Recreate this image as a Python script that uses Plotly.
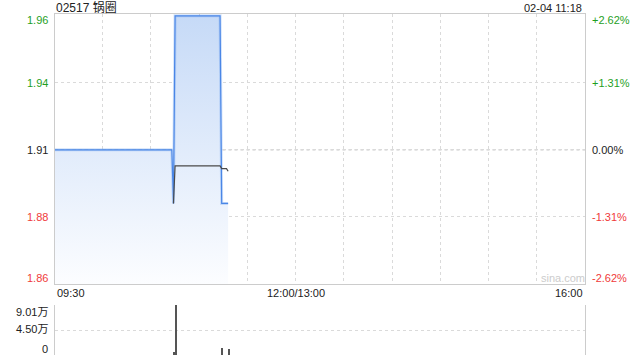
import plotly.graph_objects as go

# ---------------- data ----------------
prev_close = 1.91
title_text = "02517 锅圈"
stamp_text = "02-04 11:18"

price_times = ["09:30", "10:43", "10:44", "10:45", "11:13", "11:14", "11:18"]
price_values = [1.91, 1.91, 1.89, 1.96, 1.96, 1.89, 1.89]

avg_times = ["10:44", "10:45", "11:13", "11:14", "11:17", "11:18"]
avg_values = [1.890, 1.904, 1.904, 1.903, 1.903, 1.902]

vol_times = ["10:44", "10:45", "11:14", "11:18"]
vol_values = [4900, 90100, 12200, 10400]

pct_levels = [0.0262, 0.0131, 0.0, -0.0131, -0.0262]
price_labels = ["1.96", "1.94", "1.91", "1.88", "1.86"]
pct_labels = ["+2.62%", "+1.31%", "0.00%", "-1.31%", "-2.62%"]
vol_tick_vals = [0, 45050, 90100]
vol_tick_labels = ["0", "4.50万", "9.01万"]
x_label_times = ["09:30", "12:00", "16:00"]
x_labels = ["09:30", "12:00/13:00", "16:00"]
grid_times = ["10:00", "10:30", "11:00", "11:30", "12:00", "13:30",
              "14:00", "14:30", "15:00", "15:30"]


def tm(t):
    """Convert HH:MM to trading-minute index (lunch break removed)."""
    h, m = map(int, t.split(":"))
    total = h * 60 + m
    return total - 570 if total <= 720 else total - 630


W, H = 640, 360
FONT = "Liberation Sans, Arial, Noto Sans CJK SC, sans-serif"
GREEN = "#1f9f1f"
RED = "#f03a3a"
BLACK = "#222222"
GRID = "#dadada"
BORDER = "#cccccc"

levels = [prev_close * (1 + p) for p in pct_levels]
lo, hi = levels[-1], levels[0]
pad = (hi - lo) * (1.7 / 268.3)

px = [tm(t) for t in price_times]
ax = [tm(t) for t in avg_times]
vx = [tm(t) for t in vol_times]

fig = go.Figure()

# filled area under price
fig.add_trace(go.Scatter(
    x=px, y=price_values, mode="lines", line=dict(width=0, color="rgba(0,0,0,0)"),
    fill="tozeroy",
    fillgradient=dict(type="vertical",
                      colorscale=[[0, "rgba(252,253,255,1)"], [1, "rgba(198,218,247,1)"]],
                      start=lo, stop=hi),
    hoverinfo="skip", showlegend=False, xaxis="x", yaxis="y"))
# glow
fig.add_trace(go.Scatter(
    x=px, y=price_values, mode="lines",
    line=dict(width=3, color="rgba(100,155,240,0.3)"),
    hoverinfo="skip", showlegend=False, xaxis="x", yaxis="y"))
# price line
fig.add_trace(go.Scatter(
    x=px, y=price_values, mode="lines",
    line=dict(width=1.2, color="#4a86e6"),
    showlegend=False, xaxis="x", yaxis="y"))
# average line
fig.add_trace(go.Scatter(
    x=ax, y=avg_values, mode="lines",
    line=dict(width=1.2, color="#4a4a4a"),
    showlegend=False, xaxis="x", yaxis="y"))
# volume
fig.add_trace(go.Bar(
    x=vx, y=vol_values, width=0.7, marker=dict(color="#555555", line=dict(width=0)),
    showlegend=False, xaxis="x2", yaxis="y2"))

xdom = [54.5 / W, 585 / W]

fig.update_layout(
    width=W, height=H, margin=dict(l=0, r=0, t=0, b=0),
    paper_bgcolor="white", plot_bgcolor="white",
    font=dict(family=FONT, size=11, color=BLACK),
    xaxis=dict(domain=xdom, range=[0, 330], tickvals=[tm(t) for t in grid_times],
               showticklabels=False, ticks="", showgrid=True, gridcolor=GRID,
               griddash="dot", gridwidth=1, showline=True, mirror=True,
               linecolor=BORDER, linewidth=1, zeroline=False, fixedrange=True),
    yaxis=dict(domain=[1 - 284 / H, 1 - 14 / H], range=[lo, hi + pad],
               tickvals=levels[1:-1], showticklabels=False, ticks="",
               showgrid=True, gridcolor=GRID, griddash="dot", gridwidth=1,
               showline=True, mirror=True, linecolor=BORDER, linewidth=1,
               zeroline=False, fixedrange=True),
    xaxis2=dict(domain=xdom, range=[0, 330], showticklabels=False, ticks="",
                showgrid=False, showline=False, zeroline=False, anchor="y2",
                fixedrange=True),
    yaxis2=dict(domain=[1 - 355 / H, 1 - 305 / H], range=[0, vol_tick_vals[-1]],
                tickvals=vol_tick_vals, showticklabels=False, ticks="",
                showgrid=True, gridcolor=GRID, griddash="dot", gridwidth=1,
                showline=True, mirror=True, linecolor=BORDER, linewidth=1,
                zeroline=False, anchor="x2", fixedrange=True),
    bargap=0,
)

# darker middle (previous close) line
fig.add_shape(type="line", xref="x", yref="y", x0=0, x1=330,
              y0=prev_close, y1=prev_close,
              line=dict(color="#b4b4b4", width=1, dash="dot"), layer="below")

ann = []
colors = [GREEN, GREEN, BLACK, RED, RED]
shifts = [-4.5, 0, 0, 0, 6]
for lv, pl, cl, c, s in zip(levels, price_labels, pct_labels, colors, shifts):
    ann.append(dict(x=50 / W, xref="paper", y=lv, yref="y", text=pl,
                    xanchor="right", yanchor="middle", yshift=s,
                    showarrow=False, font=dict(size=11, color=c)))
    ann.append(dict(x=590 / W, xref="paper", y=lv, yref="y", text=cl,
                    xanchor="left", yanchor="middle", yshift=s,
                    showarrow=False, font=dict(size=11, color=c)))

vshifts = [6.5, 1, -7]
for v, t, s in zip(vol_tick_vals, vol_tick_labels, vshifts):
    ann.append(dict(x=50 / W, xref="paper", y=v, yref="y2", text=t,
                    xanchor="right", yanchor="middle", yshift=s,
                    showarrow=False, font=dict(size=11, color=BLACK)))

for t, lab, xa in zip(x_label_times, x_labels, ["left", "center", "right"]):
    ann.append(dict(x=tm(t), xref="x", y=1 - 293 / H, yref="paper", text=lab,
                    xanchor=xa, yanchor="middle", showarrow=False,
                    font=dict(size=11, color=BLACK)))

ann.append(dict(x=54 / W, xref="paper", y=1 - 7.5 / H, yref="paper", text=title_text,
                xanchor="left", yanchor="middle", showarrow=False,
                font=dict(size=12, color=BLACK)))
ann.append(dict(x=584 / W, xref="paper", y=1 - 7.5 / H, yref="paper", text=stamp_text,
                xanchor="right", yanchor="middle", showarrow=False,
                font=dict(size=11, color=BLACK)))
ann.append(dict(x=563 / W, xref="paper", y=1 - 278 / H, yref="paper", text="sina.com",
                xanchor="center", yanchor="middle", showarrow=False,
                font=dict(size=11, color="#cccccc")))

fig.update_layout(annotations=ann)

fig.write_html("out.html", config={"displayModeBar": False})
